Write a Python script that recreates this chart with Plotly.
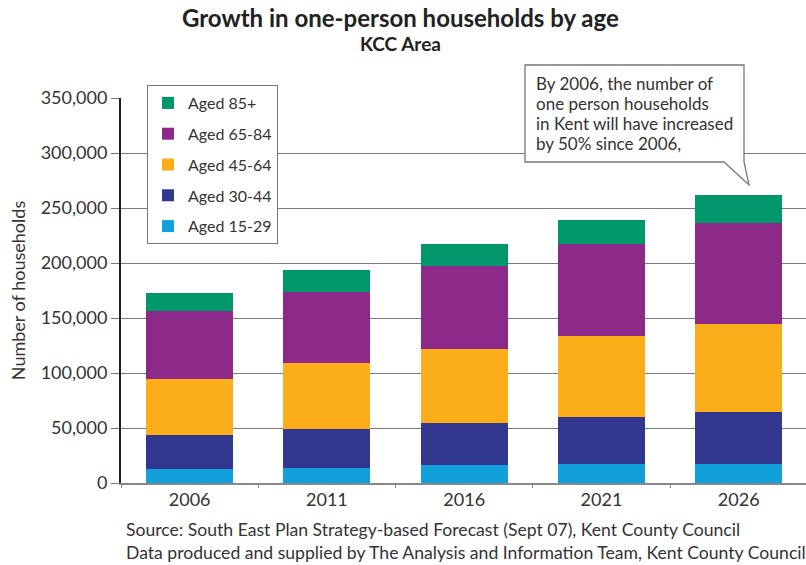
import plotly.graph_objects as go

# One-person households in the KCC area, by age band of householder
years = ["2006", "2011", "2016", "2021", "2026"]
aged_15_29 = [13000, 14000, 16000, 17000, 17000]
aged_30_44 = [31000, 35000, 39000, 43000, 48000]
aged_45_64 = [51000, 60000, 67000, 74000, 80000]
aged_65_84 = [61000, 65000, 75000, 83000, 91000]
aged_85_plus = [17000, 20000, 20000, 22000, 26000]

y_ticks = [0, 50000, 100000, 150000, 200000, 250000, 300000, 350000]

series = [
    ("Aged 15-29", aged_15_29, "#12a0da"),
    ("Aged 30-44", aged_30_44, "#31378f"),
    ("Aged 45-64", aged_45_64, "#fbae19"),
    ("Aged 65-84", aged_65_84, "#8d2a89"),
    ("Aged 85+", aged_85_plus, "#00976a"),
]

callout_lines = [
    "By 2006, the number of",
    "one person households",
    "in Kent will have increased",
    "by 50% since 2006,",
]

FONT = "Lato, 'Open Sans', sans-serif"
W, H = 806, 565
L, R, T, B = 121, 0, 98, 82
PW, PH = W - L - R, H - T - B


def px(x):
    return (x - L) / PW


def py(y):
    return (H - B - y) / PH


fig = go.Figure()
for i, (name, vals, col) in enumerate(series):
    fig.add_trace(go.Bar(
        x=years, y=vals, name=name, legendgroup=name,
        legendrank=100 - i,
        marker=dict(color=col, line=dict(width=0)),
    ))

fig.update_layout(
    width=W, height=H,
    margin=dict(l=L, r=R, t=T, b=B),
    paper_bgcolor="white", plot_bgcolor="white",
    barmode="stack", bargap=0.366,
    font=dict(family=FONT, color="#333333", size=17),
    showlegend=True,
    legend=dict(
        x=px(147), y=py(85), xanchor="left", yanchor="top",
        traceorder="grouped", tracegroupgap=7,
        bgcolor="white", bordercolor="#777777", borderwidth=1,
        font=dict(size=16, color="#333333"),
        itemwidth=30,
    ),
    xaxis=dict(
        type="category", range=[-0.5, 4.49],
        showline=True, linecolor="#888888", linewidth=1.5,
        ticks="outside", tickson="boundaries", ticklen=3, tickcolor="#888888",
        showgrid=False, tickfont=dict(size=18, color="#333333"),
    ),
    yaxis=dict(
        range=[0, 350000], tickvals=y_ticks, tickformat=",d",
        showline=True, linecolor="#222222", linewidth=2,
        ticks="outside", ticklen=8, tickcolor="#777777",
        showgrid=True, gridcolor="#7a7a7a", gridwidth=1.3,
        tickfont=dict(size=18, color="#333333"),
        title=dict(text="Number of households", font=dict(size=18, color="#333333"), standoff=10),
        zeroline=False,
    ),
)

# Title and subtitle
fig.add_annotation(
    x=px(400), xref="paper", xanchor="center",
    y=py(18), yref="paper", yanchor="middle",
    text="<b>Growth in one-person households by age</b>",
    showarrow=False, font=dict(size=24, color="#222222"),
)
fig.add_annotation(
    x=px(400), xref="paper", xanchor="center",
    y=py(43), yref="paper", yanchor="middle",
    text="<b>KCC Area</b>",
    showarrow=False, font=dict(size=19, color="#222222"),
)

# Callout bubble with a tail pointing at the 2026 bar
bx0, bx1, by0, by1 = 525, 744, 65, 162
tail_l, tip_x, tip_y = 724, 749, 185
path = (
    f"M {px(bx0)},{py(by0)} L {px(bx1)},{py(by0)} L {px(bx1)},{py(by1)} "
    f"L {px(tip_x)},{py(tip_y)} L {px(tail_l)},{py(by1)} L {px(bx0)},{py(by1)} Z"
)
fig.add_shape(
    type="path", path=path, xref="paper", yref="paper",
    fillcolor="white", line=dict(color="#777777", width=1.3), layer="above",
)
for k, line in enumerate(callout_lines):
    fig.add_annotation(
        x=px(534), xref="paper", xanchor="left",
        y=py(83 + 20 * k), yref="paper", yanchor="middle",
        text=line, align="left", showarrow=False,
        font=dict(size=17, color="#333333"),
    )

# Source notes
fig.add_annotation(
    x=px(124), xref="paper", xanchor="left",
    y=py(541), yref="paper", yanchor="middle",
    text=("Source: South East Plan Strategy-based Forecast (Sept 07), Kent County Council<br>"
          "Data produced and supplied by The Analysis and Information Team, Kent County Council"),
    align="left", showarrow=False,
    font=dict(size=17.6, color="#333333"),
)

fig.write_html("out.html")
